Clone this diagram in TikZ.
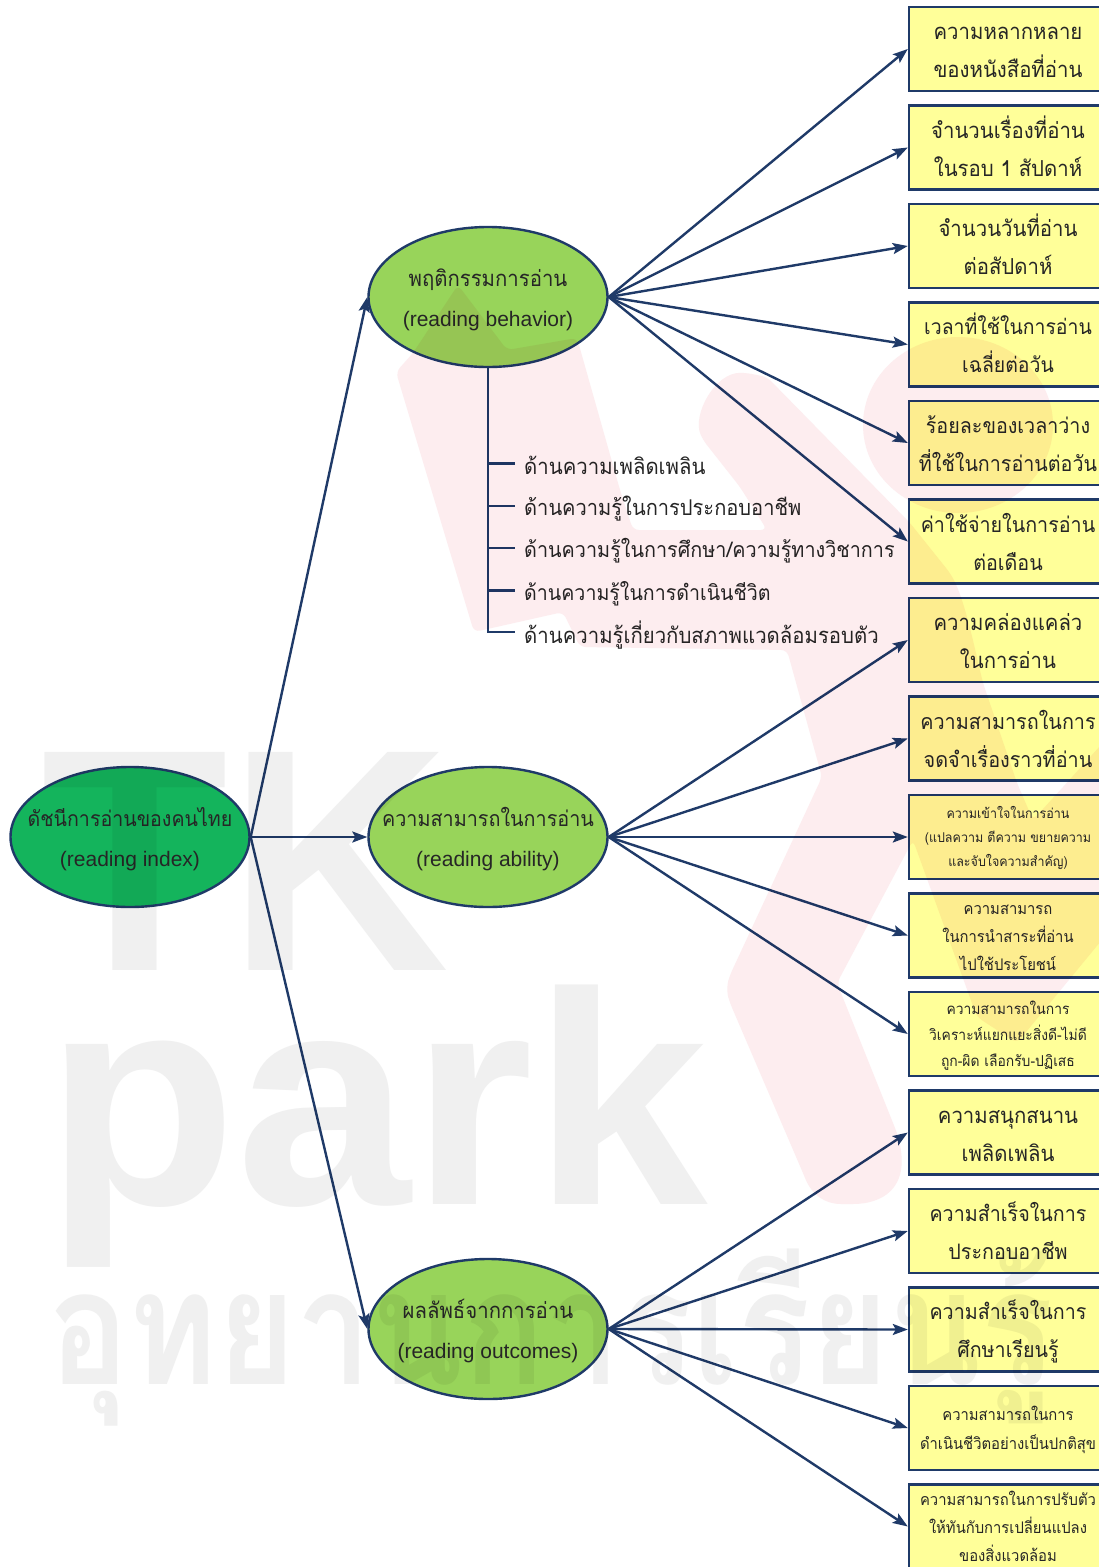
\documentclass[tikz,border=0pt]{standalone}
\usepackage{fontspec}
\setmainfont{Liberation Sans}
\newfontfamily\thai[Script=Thai,FakeStretch=0.925]{Loma}
\newfontfamily\wmthai[Script=Thai,FakeStretch=0.84]{Loma}
\newfontfamily\wmlat[FakeStretch=1.035]{Liberation Sans}
\newfontfamily\wmtk[FakeStretch=0.965]{Liberation Sans}
\usetikzlibrary{shapes.geometric,arrows.meta}
\definecolor{navy}{HTML}{1F3A68}
\definecolor{ink}{HTML}{262626}
\definecolor{rootgreen}{HTML}{14B45C}
\definecolor{midgreen}{HTML}{98D45A}
\definecolor{boxyellow}{HTML}{FFFF99}
\definecolor{wmpink}{HTML}{FDEDEF}
\definecolor{wmgray}{HTML}{F0F0F0}
\newcommand{\fs}[2]{\thai\fontsize{#1}{#2}\selectfont}
\newcommand{\lat}{\normalfont\fontsize{21}{40}\selectfont}
\newcommand{\st}{\rule[-.18em]{0pt}{1.26em}}
\tikzset{
  x=1pt,y=-1pt,
  rootell/.style={ellipse,draw=navy,line width=2.4pt,fill=rootgreen,minimum width=239pt,minimum height=140pt,inner sep=0pt},
  midell/.style={ellipse,draw=navy,line width=2.4pt,fill=midgreen,minimum width=239pt,minimum height=140pt,inner sep=0pt},
  elltext/.style={inner sep=0pt,text=ink,align=center,font=\fs{22}{40}},
  itembox/.style={rectangle,draw=navy,line width=2.4pt,fill=boxyellow,minimum width=198pt,minimum height=84pt,inner sep=0pt,text=ink,align=center,font=\fs{22}{38}},
  link/.style={draw=navy,line width=2.4pt,-{Stealth[length=15pt,width=11pt,inset=3pt]}},
  rule/.style={draw=navy,line width=2.4pt},
  aspect/.style={anchor=west,inner sep=0pt,text=ink,font=\fs{22}{26}},
  wm/.style={fill=wmpink,rounded corners=6pt},
  wmt/.style={text=wmgray,inner sep=0pt,anchor=base west}
}
\begin{document}
\begin{tikzpicture}
\useasboundingbox (0,0) rectangle (1099,1567);
\clip (0,0) rectangle (1099,1567);
\fill[white] (0,0) rectangle (1099,1567);

% ellipses
\node[rootell] (root) at (130,837) {};
\node[elltext,font=\fs{21.2}{40}] (roott) at (130,837) {\st ดัชนีการอ่านของคนไทย\\{\lat (reading index)}\st};
\node[midell] (beh) at (488,297) {};
\node[elltext] (beht) at (488,297) {\st พฤติกรรมการอ่าน\\{\lat (reading behavior)}\st};
\node[midell] (abi) at (488,837) {};
\node[elltext,font=\fs{21.4}{40}] (abit) at (488,837) {\st ความสามารถในการอ่าน\\{\lat (reading ability)}\st};
\node[midell] (out) at (488,1329) {};
\node[elltext] (outt) at (488,1329) {\st ผลลัพธ์จากการอ่าน\\{\lat (reading outcomes)}\st};

% boxes
\node[itembox] (b1) at (1008,49) {\st ความหลากหลาย\\ของหนังสือที่อ่าน\st};
\node[itembox] (b2) at (1008,147.5) {\st จำนวนเรื่องที่อ่าน\\ในรอบ 1 สัปดาห์\st};
\node[itembox] (b3) at (1008,246) {\st จำนวนวันที่อ่าน\\ต่อสัปดาห์\st};
\node[itembox,font=\fs{21}{38}] (b4) at (1008,344.5) {\st เวลาที่ใช้ในการอ่าน\\เฉลี่ยต่อวัน\st};
\node[itembox,font=\fs{21.3}{38}] (b5) at (1008,443) {\st ร้อยละของเวลาว่าง\\ที่ใช้ในการอ่านต่อวัน\st};
\node[itembox,font=\fs{21.3}{38}] (b6) at (1008,541.5) {\st ค่าใช้จ่ายในการอ่าน\\ต่อเดือน\st};
\node[itembox] (b7) at (1008,640) {\st ความคล่องแคล่ว\\ในการอ่าน\st};
\node[itembox,font=\fs{21.4}{38}] (b8) at (1008,738.5) {\st ความสามารถในการ\\จดจำเรื่องราวที่อ่าน\st};
\node[itembox,font=\fs{13.5}{24}] (b9) at (1008,837) {\st ความเข้าใจในการอ่าน\\(แปลความ ตีความ ขยายความ\\และจับใจความสำคัญ)\st};
\node[itembox,font=\fs{16}{28}] (b10) at (1008,935.5) {\st ความสามารถ\\ในการนำสาระที่อ่าน\\ไปใช้ประโยชน์\st};
\node[itembox,font=\fs{15}{26}] (b11) at (1008,1034) {\st ความสามารถในการ\\วิเคราะห์แยกแยะสิ่งดี-ไม่ดี\\ถูก-ผิด เลือกรับ-ปฏิเสธ\st};
\node[itembox] (b12) at (1008,1132.5) {\st ความสนุกสนาน\\เพลิดเพลิน\st};
\node[itembox,font=\fs{21.3}{38}] (b13) at (1008,1231) {\st ความสำเร็จในการ\\ประกอบอาชีพ\st};
\node[itembox,font=\fs{21.3}{38}] (b14) at (1008,1329.5) {\st ความสำเร็จในการ\\ศึกษาเรียนรู้\st};
\node[itembox,font=\fs{16}{29}] (b15) at (1008,1428) {\st ความสามารถในการ\\ดำเนินชีวิตอย่างเป็นปกติสุข\st};
\node[itembox,font=\fs{16}{28}] (b16) at (1008,1526.5) {\st ความสามารถในการปรับตัว\\ให้ทันกับการเปลี่ยนแปลง\\ของสิ่งแวดล้อม\st};

% links
\foreach \t in {beh,abi,out} \draw[link] (root.east) -- (\t.west);
\foreach \t in {b1,b2,b3,b4,b5,b6} \draw[link] (beh.east) -- (\t.west);
\foreach \t in {b7,b8,b9,b10,b11} \draw[link] (abi.east) -- (\t.west);
\foreach \t in {b12,b13,b14,b15,b16} \draw[link] (out.east) -- (\t.west);

% aspect list
\node[aspect] (a1) at (524,464.5) {\st ด้านความเพลิดเพลิน};
\node[aspect,font=\fs{21.7}{26}] (a2) at (524,507) {\st ด้านความรู้ในการประกอบอาชีพ};
\node[aspect,font=\fs{21.4}{26}] (a3) at (524,549) {\st ด้านความรู้ในการศึกษา/ความรู้ทางวิชาการ};
\node[aspect,font=\fs{21.2}{26}] (a4) at (524,592) {\st ด้านความรู้ในการดำเนินชีวิต};
\node[aspect] (a5) at (524,634) {\st ด้านความรู้เกี่ยวกับสภาพแวดล้อมรอบตัว};
\coordinate (t1) at (488,463.5); \coordinate (e1) at (515,463.5);
\coordinate (t2) at (488,506); \coordinate (e2) at (515,506);
\coordinate (t3) at (488,548); \coordinate (e3) at (515,548);
\coordinate (t4) at (488,590.5); \coordinate (e4) at (515,590.5);
\coordinate (t5) at (488,632); \coordinate (e5) at (515,632);
\draw[rule,line join=miter] (beh.south) -- (t5) -- (e5);
\foreach \i in {1,2,3,4} \draw[rule] (t\i) -- (e\i);

% watermark, multiplied over everything
\begin{scope}[blend mode=multiply]
\path[wm] (396,372) -- (413,353) -- (458,285) -- (507,350) -- (577,338) -- (620,490) -- (633,530)
  -- (767,530) -- (740,487) -- (703,440) .. controls (692,415) and (715,372) .. (747,373)
  -- (767,377) -- (910,523) -- (950,573) .. controls (965,600) and (975,650) .. (983,683)
  -- (1017,783) -- (1033,820) -- (1063,787) -- (1110,735) -- (1110,930) -- (1017,1043)
  -- (977,1017) -- (913,840) -- (837,983) -- (897,1133)
  .. controls (912,1190) and (880,1204) .. (847,1204) .. controls (825,1204) and (812,1195) .. (803,1173)
  -- (730,1003) .. controls (727,993) and (727,985) .. (730,975)
  -- (822,777) -- (787,650) -- (580,647) -- (563,612) -- (474,632) -- cycle;
\fill[wmpink] (958,425) ellipse [x radius=95, y radius=88];
\node[wmt,font=\wmtk\bfseries\fontsize{317}{317}\selectfont] (wm1) at (41,970) {TK};
\node[wmt,font=\wmlat\bfseries\fontsize{303}{303}\selectfont] (wm2) at (45,1204) {park};
\node[wmt,font={\wmthai\bfseries\fontsize{160}{160}\selectfont}] (wm3) at (48,1384) {อุทยานการเรียนรู้};
\end{scope}
\end{tikzpicture}
\end{document}
